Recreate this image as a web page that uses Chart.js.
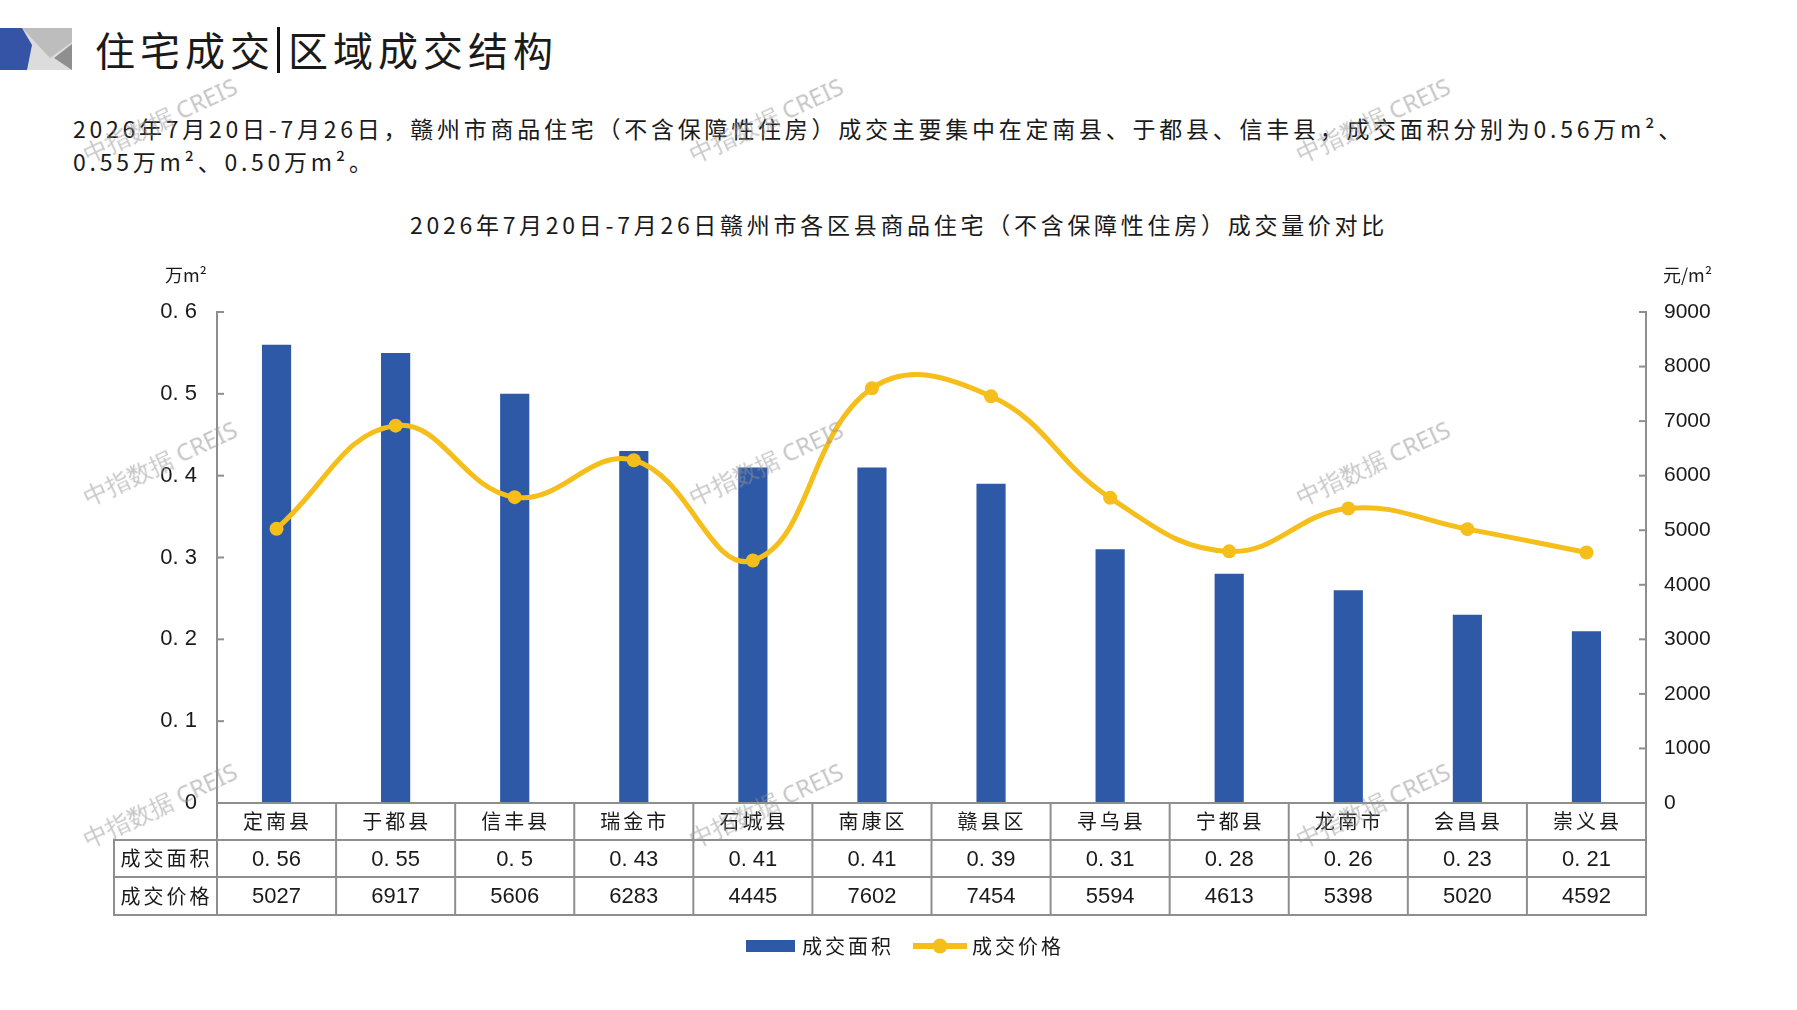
<!DOCTYPE html>
<html>
<head>
<meta charset="utf-8">
<script src="https://cdn.jsdelivr.net/npm/chart.js@4.4.1/dist/chart.umd.min.js"></script>
<style>
  html, body { margin: 0; padding: 0; background: #fff; }
  body { width: 1797px; height: 1010px; position: relative; overflow: hidden;
         font-family: "Noto Sans CJK SC", sans-serif; color: #1a1a1a; }
  #logo { position: absolute; left: 0; top: 28px; }
  #head { position: absolute; left: 95px; top: 19px; font-size: 40px; line-height: 60px; white-space: nowrap; }
  #head .bar { display: inline-block; width: 3px; height: 46px; background: #111; vertical-align: -7px; margin: 0 8px 0 2px; }
  #para { position: absolute; left: 73px; top: 112px; font-size: 23px; line-height: 33px; white-space: nowrap; }
  #para span { display: inline-block; }
  #ctitle { position: absolute; left: 0; top: 207px; width: 1798px; text-align: center; font-size: 23px; white-space: nowrap; }
  #ctitle span { display: inline-block; }
  #c { position: absolute; left: 0; top: 0; }
  .wm { position: absolute; width: 220px; margin-left: -110px; margin-top: -15px; text-align: center;
        font-family: "Noto Sans", sans-serif; font-size: 24px; line-height: 30px; color: rgba(150,150,150,0.55);
        transform: rotate(-25deg); white-space: nowrap; z-index: 5; }
</style>
</head>
<body>
<svg id="logo" width="74" height="42" viewBox="0 0 74 42">
  <rect x="0" y="0" width="72" height="42" fill="#dcdcdc"/>
  <polygon points="22,0 72,0 72,14 50,30" fill="#bdbdbd"/>
  <polygon points="72,16 72,42 54,30" fill="#8f8f8f"/>
  <polygon points="0,0 22,0 32,17 27,42 0,42" fill="#3654a5"/>
</svg>
<div id="head">住宅成交<span class="bar"></span>区域成交结构</div>
<div id="para"><span id="p1">2026年7月20日-7月26日，赣州市商品住宅（不含保障性住房）成交主要集中在定南县、于都县、信丰县，成交面积分别为0.56万m²、</span><br><span id="p2">0.55万m²、0.50万m²。</span></div>
<div id="ctitle"><span id="ct">2026年7月20日-7月26日赣州市各区县商品住宅（不含保障性住房）成交量价对比</span></div>
<canvas id="c" width="1797" height="1010"></canvas>

<div class="wm" style="left:160px;top:120px">中指数据 CREIS</div>
<div class="wm" style="left:766px;top:120px">中指数据 CREIS</div>
<div class="wm" style="left:1373px;top:120px">中指数据 CREIS</div>
<div class="wm" style="left:160px;top:463px">中指数据 CREIS</div>
<div class="wm" style="left:766px;top:463px">中指数据 CREIS</div>
<div class="wm" style="left:1373px;top:463px">中指数据 CREIS</div>
<div class="wm" style="left:160px;top:805px">中指数据 CREIS</div>
<div class="wm" style="left:766px;top:805px">中指数据 CREIS</div>
<div class="wm" style="left:1373px;top:805px">中指数据 CREIS</div>

<script>
// Chart data
const categories = ['定南县', '于都县', '信丰县', '瑞金市', '石城县', '南康区', '赣县区', '寻乌县', '宁都县', '龙南市', '会昌县', '崇义县'];
const areaValues = [0.56, 0.55, 0.5, 0.43, 0.41, 0.41, 0.39, 0.31, 0.28, 0.26, 0.23, 0.21];
const priceValues = [5027, 6917, 5606, 6283, 4445, 7602, 7454, 5594, 4613, 5398, 5020, 4592];
const seriesNames = ['成交面积', '成交价格'];
const areaTickLabels = ['0', '0. 1', '0. 2', '0. 3', '0. 4', '0. 5', '0. 6'];
const priceTickLabels = ['0', '1000', '2000', '3000', '4000', '5000', '6000', '7000', '8000', '9000'];
const unitLabels = ['万m²', '元/m²'];

const BLUE = '#2e59a7';
const GOLD = '#f5be1a';
const GRID = '#8e8e8e';
const CJK = '"Noto Sans CJK SC", sans-serif';
const NUM = '"Liberation Sans", Arial, sans-serif';

// stretch a line of text to a target width with letter spacing
function fitWidth(id, target) {
  const el = document.getElementById(id);
  const n = el.textContent.length;
  const w = el.getBoundingClientRect().width;
  el.style.letterSpacing = ((target - w) / n) + 'px';
}
fitWidth('p1', 1612);
fitWidth('ct', 978);
document.getElementById('p2').style.letterSpacing = document.getElementById('p1').style.letterSpacing;
document.getElementById('head').style.letterSpacing = '5px';

function line(ctx, x1, y1, x2, y2) {
  ctx.beginPath();
  ctx.moveTo(x1, y1);
  ctx.lineTo(x2, y2);
  ctx.stroke();
}

// inward tick marks and axis units
const axisExtras = {
  id: 'axisExtras',
  afterDraw(chart) {
    const ctx = chart.ctx;
    const area = chart.chartArea;
    const y = chart.scales.y, y1 = chart.scales.y1;
    ctx.save();
    ctx.strokeStyle = GRID;
    ctx.lineWidth = 2;
    y.ticks.forEach((t, i) => {
      const py = y.getPixelForTick(i);
      line(ctx, area.left, py, area.left + 7, py);
    });
    y1.ticks.forEach((t, i) => {
      const py = y1.getPixelForTick(i);
      line(ctx, area.right - 7, py, area.right, py);
    });
    ctx.fillStyle = '#1a1a1a';
    ctx.font = '18px ' + CJK;
    ctx.textBaseline = 'middle';
    ctx.textAlign = 'right';
    ctx.fillText(unitLabels[0], area.left - 10, area.top - 37);
    ctx.textAlign = 'left';
    ctx.fillText(unitLabels[1], area.right + 17, area.top - 37);
    ctx.restore();
  }
};

// data table under the plot
const dataTable = {
  id: 'dataTable',
  afterDraw(chart) {
    const ctx = chart.ctx;
    const area = chart.chartArea;
    const x = chart.scales.x;
    const rows = [area.bottom, area.bottom + 37, area.bottom + 74, area.bottom + 112];
    const headLeft = 114;
    const n = categories.length;
    ctx.save();
    ctx.strokeStyle = GRID;
    ctx.lineWidth = 2;
    line(ctx, area.left - 1, rows[0], area.right + 1, rows[0]);
    for (let r = 1; r < 4; r++) line(ctx, headLeft, rows[r], area.right + 1, rows[r]);
    line(ctx, headLeft, rows[1] - 1, headLeft, rows[3] + 1);
    for (let i = 0; i <= n; i++) {
      let bx;
      if (i === 0) bx = area.left;
      else if (i === n) bx = area.right;
      else bx = (x.getPixelForValue(i - 1) + x.getPixelForValue(i)) / 2;
      line(ctx, bx, rows[0] - 1, bx, rows[3] + 1);
    }

    ctx.fillStyle = '#1a1a1a';
    ctx.textAlign = 'center';
    ctx.textBaseline = 'middle';
    ctx.font = '20px ' + CJK;
    ctx.letterSpacing = '3px';
    const headX = (headLeft + area.left) / 2 + 1;
    ctx.fillText(seriesNames[0], headX, (rows[1] + rows[2]) / 2);
    ctx.fillText(seriesNames[1], headX, (rows[2] + rows[3]) / 2);
    categories.forEach((c, i) => {
      ctx.fillText(c, x.getPixelForValue(i) + 1, (rows[0] + rows[1]) / 2);
    });
    ctx.letterSpacing = '0px';
    ctx.font = '22px ' + NUM;
    areaValues.forEach((v, i) => {
      ctx.fillText(String(v).replace('.', '. '), x.getPixelForValue(i), (rows[1] + rows[2]) / 2 + 1);
    });
    priceValues.forEach((v, i) => {
      ctx.fillText(String(v), x.getPixelForValue(i), (rows[2] + rows[3]) / 2 + 1);
    });
    ctx.restore();
  }
};

// legend with bar swatch and line-with-dot swatch
const legendBox = {
  id: 'legendBox',
  afterDraw(chart) {
    const ctx = chart.ctx;
    const ly = 946;
    ctx.save();
    ctx.fillStyle = BLUE;
    ctx.fillRect(746, ly - 6, 49, 12);
    ctx.strokeStyle = GOLD;
    ctx.lineWidth = 6;
    line(ctx, 913, ly, 967, ly);
    ctx.fillStyle = GOLD;
    ctx.beginPath();
    ctx.arc(940, ly, 7.5, 0, Math.PI * 2);
    ctx.fill();
    ctx.fillStyle = '#1a1a1a';
    ctx.font = '20px ' + CJK;
    ctx.letterSpacing = '3px';
    ctx.textAlign = 'left';
    ctx.textBaseline = 'middle';
    ctx.fillText(chart.data.datasets[0].label, 802, ly);
    ctx.fillText(chart.data.datasets[1].label, 972, ly);
    ctx.restore();
  }
};

new Chart(document.getElementById('c'), {
  data: {
    labels: categories,
    datasets: [
      {
        type: 'bar',
        label: seriesNames[0],
        data: areaValues,
        yAxisID: 'y',
        backgroundColor: BLUE,
        barPercentage: 0.245,
        categoryPercentage: 1,
        order: 2
      },
      {
        type: 'line',
        label: seriesNames[1],
        data: priceValues,
        yAxisID: 'y1',
        borderColor: GOLD,
        backgroundColor: GOLD,
        borderWidth: 5,
        pointRadius: 7,
        pointBackgroundColor: GOLD,
        pointBorderWidth: 0,
        tension: 0.42,
        clip: false,
        order: 1
      }
    ]
  },
  options: {
    responsive: false,
    animation: false,
    devicePixelRatio: 1,
    layout: { padding: { left: 137, right: 51, top: 312, bottom: 207 } },
    plugins: {
      legend: { display: false },
      title: { display: false },
      tooltip: { enabled: false }
    },
    scales: {
      x: { display: false, offset: true },
      y: {
        position: 'left',
        min: 0,
        max: 0.6,
        ticks: {
          stepSize: 0.1,
          padding: 12,
          color: '#1a1a1a',
          font: { family: 'Liberation Sans', size: 22 },
          callback: (v, i) => areaTickLabels[i]
        },
        grid: { display: false },
        border: { display: true, color: GRID, width: 2 },
        afterFit: (scale) => { scale.width = 80; }
      },
      y1: {
        position: 'right',
        min: 0,
        max: 9000,
        ticks: {
          stepSize: 1000,
          padding: 10,
          color: '#1a1a1a',
          font: { family: 'Liberation Sans', size: 21 },
          callback: (v, i) => priceTickLabels[i]
        },
        grid: { display: false },
        border: { display: true, color: GRID, width: 2 },
        afterFit: (scale) => { scale.width = 100; }
      }
    }
  },
  plugins: [axisExtras, dataTable, legendBox]
});
</script>
</body>
</html>
